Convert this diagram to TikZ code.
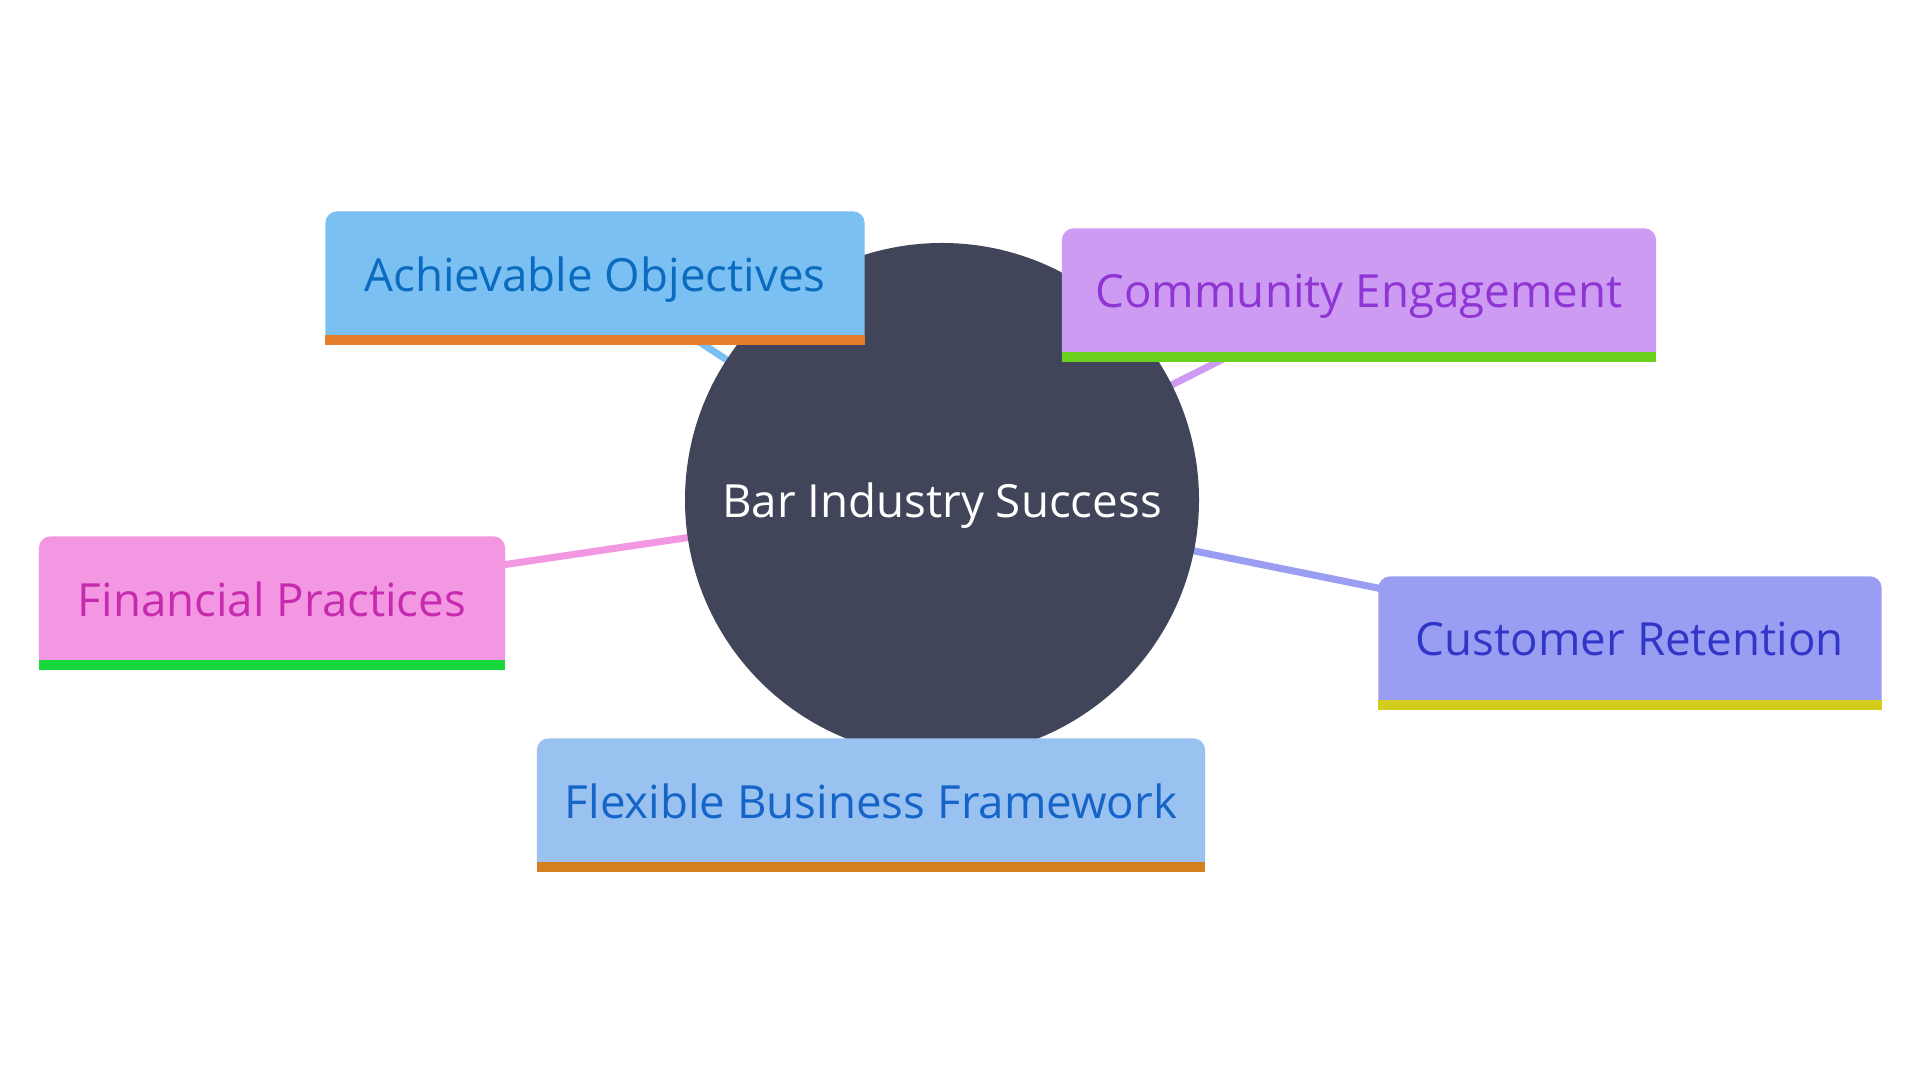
\documentclass[tikz,border=0pt]{standalone}
\usepackage{fontspec}
\setmainfont{Open Sans}
\usetikzlibrary{backgrounds}

\definecolor{hubcol}{HTML}{414559}
\definecolor{achfill}{HTML}{7AC0F2}
\definecolor{achtext}{HTML}{0B6BBF}
\definecolor{achbar}{HTML}{E67E2D}
\definecolor{comfill}{HTML}{CD9CF2}
\definecolor{comtext}{HTML}{8E35D4}
\definecolor{combar}{HTML}{6BD11F}
\definecolor{finfill}{HTML}{F397E2}
\definecolor{fintext}{HTML}{C62BAF}
\definecolor{finbar}{HTML}{17D83A}
\definecolor{cusfill}{HTML}{9A9EF2}
\definecolor{custext}{HTML}{3136C8}
\definecolor{cusbar}{HTML}{D4CC1A}
\definecolor{flxfill}{HTML}{9AC2F0}
\definecolor{flxtext}{HTML}{1565C8}
\definecolor{flxbar}{HTML}{D47F20}

\pgfdeclarelayer{canvas}
\pgfdeclarelayer{edges}
\pgfdeclarelayer{boxfill}
\pgfdeclarelayer{front}
\pgfsetlayers{canvas,edges,main,boxfill,front}

\begin{document}
\begin{tikzpicture}
			\tikzstyle{hub} = [circle,fill=hubcol,text=white,minimum size=5.14cm,inner sep=0pt,text depth=0pt,font=\fontsize{13}{16}\selectfont];
			\tikzstyle{topic} = [rectangle,minimum height=1.24cm,inner sep=0pt,text depth=0pt,font=\fontsize{13}{16}\selectfont];
			\tikzstyle{link} = [line width=2pt];
			\begin{pgfonlayer}{canvas}
			\fill[white] (0,0) rectangle (19.2,10.8);
			\end{pgfonlayer}
			\useasboundingbox (0,0) rectangle (19.2,10.8);
			\node[hub] (hub) at (9.42, 5.80) {Bar Industry Success};
			\begin{pgfonlayer}{front}
			\node[topic,text=achtext,minimum width=5.38cm] (achieve) at (5.95, 8.06) {Achievable Objectives};
			\node[topic,text=comtext,minimum width=5.93cm] (community) at (13.59, 7.89) {Community Engagement};
			\node[topic,text=fintext,minimum width=4.65cm] (finance) at (2.72, 4.81) {Financial Practices};
			\node[topic,text=custext,minimum width=5.02cm] (customer) at (16.30, 4.41) {Customer Retention};
			\node[topic,text=flxtext,minimum width=6.67cm] (flexible) at (8.71, 2.79) {Flexible Business Framework};
			\end{pgfonlayer}
			% box bodies with a coloured strip underneath
			\begin{pgfonlayer}{boxfill}
			\foreach \n/\f/\b in {achieve/achfill/achbar,community/comfill/combar,finance/finfill/finbar,customer/cusfill/cusbar,flexible/flxfill/flxbar}{
				\fill[\f] (\n.south west) [rounded corners=0.12cm] -- (\n.north west) -- (\n.north east) [sharp corners] -- (\n.south east) -- cycle;
				\fill[\b] ([yshift=0.02cm]\n.south west) rectangle ([yshift=-0.086cm]\n.south east);
			}
			\end{pgfonlayer}
			\begin{pgfonlayer}{edges}
			\foreach \n/\f in {achieve/achfill,community/comfill,finance/finfill,customer/cusfill,flexible/flxfill}
				\draw[link,\f] (hub.center) -- (\n.center);
			\end{pgfonlayer}
		\end{tikzpicture}
\end{document}
